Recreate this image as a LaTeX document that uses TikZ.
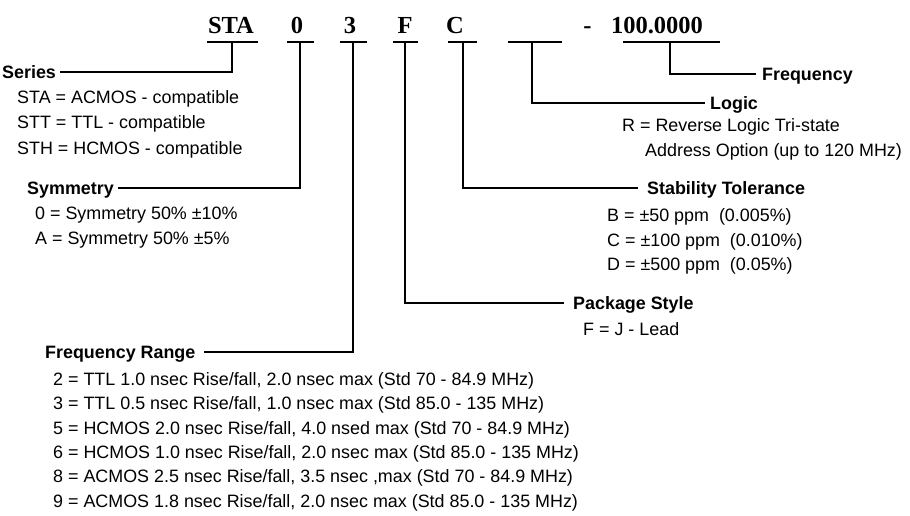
\documentclass[tikz,border=0pt]{standalone}
\usepackage{fontspec}
\setmainfont{Liberation Sans}
\newfontfamily\hdrfont{Liberation Serif}
\begin{document}
\begin{tikzpicture}[x=1pt,y=-1pt,
  txt/.style={anchor=west,inner sep=0pt,text height=12.8pt,text depth=0pt,font=\fontsize{17.9pt}{20pt}\selectfont},
  hd/.style={txt,font=\fontsize{17.9pt}{20pt}\selectfont\bfseries},
  code/.style={anchor=center,inner sep=0pt,text height=16.2pt,text depth=0pt,font=\hdrfont\fontsize{24.5pt}{28pt}\selectfont\bfseries},
  ul/.style={line width=1.6pt},
  conn/.style={line width=1.2pt}]
\useasboundingbox (0,0) rectangle (910,515);
% header codes
\node[code] (cSTA) at (231,25) {STA};
\node[code] (c0) at (297,25) {0};
\node[code] (c3) at (350,25) {3};
\node[code] (cF) at (405,25) {F};
\node[code] (cC) at (455,25) {C};
\node[code] (cdash) at (587.5,25) {-};
\node[code] (cfreq) at (657,25) {100.0000};
% underlines
\draw[ul] (207,42) -- (258,42);
\draw[ul] (287,42) -- (314,42);
\draw[ul] (340,42) -- (367,42);
\draw[ul] (393,42) -- (418,42);
\draw[ul] (448,42) -- (477,42);
\draw[ul] (508,42) -- (562,42);
\draw[ul] (623,42) -- (720,42);
% junctions
\coordinate (jSTA) at (232,42);
\coordinate (j0) at (300,42);
\coordinate (j3) at (353,42);
\coordinate (jF) at (405,42);
\coordinate (jC) at (463,42);
\coordinate (jL) at (532,42);
\coordinate (jQ) at (670,42);
% Series
\node[hd] (series) at (2,72) {Series};
\node[txt] (seriesA) at (17,97) {STA = ACMOS - compatible};
\node[txt] (seriesB) at (17,122.5) {STT = TTL - compatible};
\node[txt] (seriesC) at (17,148) {STH = HCMOS - compatible};
% Symmetry
\node[hd] (sym) at (27,188) {Symmetry};
\node[txt] (symA) at (35,213) {0 = Symmetry 50\% ±10\%};
\node[txt] (symB) at (35,238) {A = Symmetry 50\% ±5\%};
% Frequency range
\node[hd] (fr) at (45,352) {Frequency Range};
\node[txt] (fr2) at (53,379) {2 = TTL 1.0 nsec Rise/fall, 2.0 nsec max (Std 70 - 84.9 MHz)};
\node[txt] (fr3) at (53,403.5) {3 = TTL 0.5 nsec Rise/fall, 1.0 nsec max (Std 85.0 - 135 MHz)};
\node[txt] (fr5) at (53,428) {5 = HCMOS 2.0 nsec Rise/fall, 4.0 nsed max (Std 70 - 84.9 MHz)};
\node[txt] (fr6) at (53,452) {6 = HCMOS 1.0 nsec Rise/fall, 2.0 nsec max (Std 85.0 - 135 MHz)};
\node[txt] (fr8) at (53,476.5) {8 = ACMOS 2.5 nsec Rise/fall, 3.5 nsec ,max (Std 70 - 84.9 MHz)};
\node[txt] (fr9) at (53,501) {9 = ACMOS 1.8 nsec Rise/fall, 2.0 nsec max (Std 85.0 - 135 MHz)};
% Package
\node[hd] (pkg) at (573,303) {Package Style};
\node[txt] (pkgA) at (583,329) {F = J - Lead};
% Stability
\node[hd] (stab) at (647,188) {Stability Tolerance};
\node[txt] (stabB) at (607,215) {B = ±50 ppm~~(0.005\%)};
\node[txt] (stabC) at (607,240) {C = ±100 ppm~~(0.010\%)};
\node[txt] (stabD) at (607,264) {D = ±500 ppm~~(0.05\%)};
% Logic
\node[hd] (logic) at (710,103) {Logic};
\node[txt] (logR) at (622,125) {R = Reverse Logic Tri-state};
\node[txt] (logA) at (645,150) {Address Option (up to 120 MHz)};
% Frequency
\node[hd] (freq) at (762,74) {Frequency};
% connectors
\draw[conn] (jSTA) |- ([xshift=4pt]series.east);
\draw[conn] (j0) |- ([xshift=4pt]sym.east);
\draw[conn] (j3) |- ([xshift=8pt]fr.east);
\draw[conn] (jF) |- ([xshift=-9pt]pkg.west);
\draw[conn] (jC) |- ([xshift=-9pt]stab.west);
\draw[conn] (jL) |- ([xshift=-5pt]logic.west);
\draw[conn] (jQ) |- ([xshift=-6pt]freq.west);
\end{tikzpicture}
\end{document}
